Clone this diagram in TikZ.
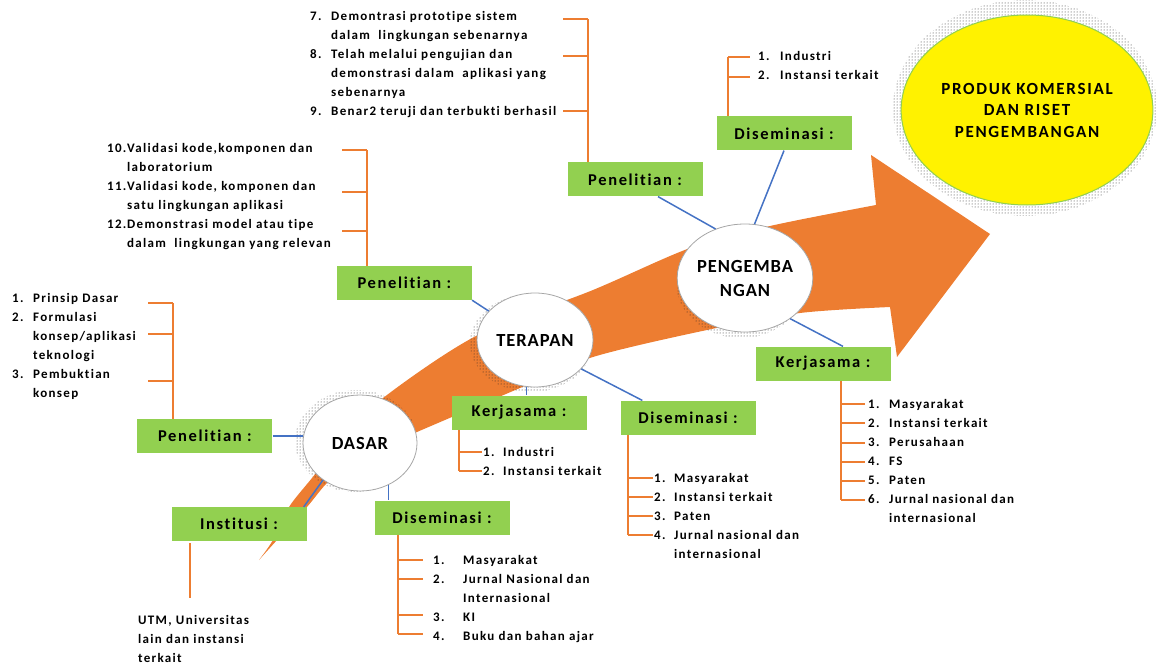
\documentclass[tikz,border=0pt]{standalone}
\usepackage{fontspec}
\setmainfont{Carlito}[LetterSpace=10, Ligatures=NoCommon]
\newfontfamily\stagefont{Carlito}[LetterSpace=5, Ligatures=NoCommon]
\usetikzlibrary{shapes.geometric, patterns, positioning}
\definecolor{arrowOrange}{HTML}{ED7D31}
\definecolor{boxGreen}{HTML}{92D050}
\definecolor{linkBlue}{HTML}{4472C4}
\tikzstyle{greenNode} = [rectangle, minimum width=135pt, minimum height=34pt, inner sep=0pt, fill=boxGreen, text=black, font=\fontsize{16.5}{20}\selectfont\bfseries]
\tikzstyle{stageNode} = [ellipse, draw=black!35, line width=0.8pt, fill=white, inner sep=0pt, align=center, font=\stagefont\fontsize{18.5}{24}\selectfont\bfseries]
\tikzstyle{goalNode} = [ellipse, fill=yellow, draw=boxGreen, line width=1pt, minimum width=230pt, minimum height=190pt, align=center, font=\fontsize{17}{21.5}\selectfont\bfseries]
\tikzstyle{listNode} = [anchor=base west, inner sep=0pt, font=\fontsize{13}{19}\selectfont\bfseries]
\tikzstyle{halo} = [pattern=dots, pattern color=black!85]
\tikzstyle{lineB} = [line width=1.5pt, draw=linkBlue]
\tikzstyle{lineO} = [line width=1.4pt, draw=arrowOrange]

\begin{document}
\begin{tikzpicture}[x=1pt, y=-1pt]
    \useasboundingbox (0,0) rectangle (1166,666);

    % big arrow
    \fill[arrowOrange] plot[smooth, tension=0.5] coordinates {(259,560) (273,540) (289,507) (312,478) (345,437) (383,398) (476,336) (593,290) (690,248) (770,226) (876,205)}
        -- (871,155) -- (990,234) -- (897,357) -- (890,307)
        -- plot[smooth, tension=0.5] coordinates {(890,307) (800,313) (707,330) (593,357) (520,388) (417,432) (365,455) (330,480) (307,507) (277,540) (259,560)} -- cycle;

    % halos
    \fill[halo] (1025,108) ellipse (132pt and 108pt);
    \fill[halo] (356,441) ellipse (61pt and 51pt);
    \fill[halo] (531,343) ellipse (61pt and 49pt);
    \fill[halo] (741,282) ellipse (65pt and 56pt);

    \node (produk) [goalNode] at (1027,110) {PRODUK KOMERSIAL\\DAN RISET\\PENGEMBANGAN};
    \node (dasar) [stageNode, minimum width=114pt, minimum height=96pt] at (360,443) {DASAR};
    \node (terapan) [stageNode, minimum width=116pt, minimum height=94pt] at (535,340) {TERAPAN};
    \node (peng) [stageNode, minimum width=124pt, minimum height=108pt] at (745,278) {PENGEMBA\\NGAN};

    \node (pen1) [greenNode, left=30pt of dasar, yshift=7pt] {Penelitian :};
    \node (inst) [greenNode, below=15.5pt of dasar, xshift=-121pt] {Institusi :};
    \node (dis1) [greenNode, below=9pt of dasar, xshift=82pt] {Diseminasi :};
    \node (pen2) [greenNode, left=4.5pt of terapan, yshift=57pt] {Penelitian :};
    \node (kerj2) [greenNode, below=8pt of terapan, xshift=-16pt] {Kerjasama :};
    \node (dis2) [greenNode, below=13pt of terapan, xshift=153pt] {Diseminasi :};
    \node (pen3) [greenNode, above=27pt of peng, xshift=-110pt] {Penelitian :};
    \node (dis3) [greenNode, above=73pt of peng, xshift=39pt] {Diseminasi :};
    \node (kerj3) [greenNode, below=14pt of peng, xshift=78pt] {Kerjasama :};

    \draw [lineB] (pen1.east) -- (pen1.east -| dasar.west);
    \draw [lineB] ([xshift=-3pt]inst.north east) -- (dasar.225);
    \draw [lineB] (dasar.304) -- (dasar.304 |- dis1.north);
    \draw [lineB] (pen2.south east) -- (terapan.148);
    \draw [lineB] (terapan.260) -- (terapan.260 |- kerj2.north);
    \draw [lineB] (terapan.328) -- ([xshift=22pt]dis2.north west);
    \draw [lineB] ([xshift=23pt]pen3.south) -- (peng.121);
    \draw [lineB] (dis3.south) -- (peng.80);
    \draw [lineB] (peng.318) -- ([xshift=20pt]kerj3.north);

    % lists
    \node (listA) [listNode] at (12,302) {\begin{tabular}[t]{@{}p{21pt}@{}l@{}}
        1. & Prinsip Dasar\\ 2. & Formulasi\\ & konsep/aplikasi\\ & teknologi\\ 3. & Pembuktian\\ & konsep\end{tabular}};
    \node (listB) [listNode] at (107,152) {\begin{tabular}[t]{@{}p{20pt}@{}l@{}}
        10. & Validasi kode,komponen dan\\ & laboratorium\\ 11. & Validasi kode, komponen dan\\ & satu lingkungan aplikasi\\ 12. & Demonstrasi model atau tipe\\ & dalam\ \ lingkungan yang relevan\end{tabular}};
    \node (listC) [listNode] at (310,21) {\begin{tabular}[t]{@{}p{21pt}@{}l@{}}
        7. & Demontrasi prototipe sistem\\ & dalam\ \ lingkungan sebenarnya\\ 8. & Telah melalui pengujian dan\\ & demonstrasi dalam\ \ aplikasi yang\\ & sebenarnya\\ 9. & Benar2 teruji dan terbukti berhasil\end{tabular}};
    \node (listD) [listNode] at (758,61) {\begin{tabular}[t]{@{}p{22pt}@{}l@{}}
        1. & Industri\\ 2. & Instansi terkait\end{tabular}};
    \node (listE) [listNode] at (868,408) {\begin{tabular}[t]{@{}p{21pt}@{}l@{}}
        1. & Masyarakat\\ 2. & Instansi terkait\\ 3. & Perusahaan\\ 4. & FS\\ 5. & Paten\\ 6. & Jurnal nasional dan\\ & internasional\end{tabular}};
    \node (listF) [listNode] at (483,456) {\begin{tabular}[t]{@{}p{20pt}@{}l@{}}
        1. & Industri\\ 2. & Instansi terkait\end{tabular}};
    \node (listG) [listNode] at (654,482) {\begin{tabular}[t]{@{}p{20pt}@{}l@{}}
        1. & Masyarakat\\ 2. & Instansi terkait\\ 3. & Paten\\ 4. & Jurnal nasional dan\\ & internasional\end{tabular}};
    \node (listH) [listNode] at (433,564) {\begin{tabular}[t]{@{}p{30pt}@{}l@{}}
        1. & Masyarakat\\ 2. & Jurnal Nasional dan\\ & Internasional\\ 3. & KI\\ 4. & Buku dan bahan ajar\end{tabular}};
    \node (listI) [listNode] at (138,624) {\begin{tabular}[t]{@{}l@{}}
        UTM, Universitas\\ lain dan instansi\\ terkait\end{tabular}};

    % brackets
    \coordinate (tA) at (173,303);
    \coordinate (tB) at (367,150);
    \coordinate (tC) at (588,19);
    \coordinate (tD) at (728,57);
    \coordinate (tE) at (841,500);
    \coordinate (tF) at (459,471);
    \coordinate (tG) at (628,535);
    \coordinate (tH) at (398,634);
    \coordinate (tI) at (190,598);
    \draw [lineO] (tA |- pen1.north) -- (tA);
    \draw [lineO] (tB |- pen2.north) -- (tB);
    \draw [lineO] (tC |- pen3.north) -- (tC);
    \draw [lineO] (tD |- dis3.north) -- (tD);
    \draw [lineO] (tE |- kerj3.south) -- (tE);
    \draw [lineO] (tF |- kerj2.south) -- (tF);
    \draw [lineO] (tG |- dis2.south) -- (tG);
    \draw [lineO] (tH |- dis1.south) -- (tH);
    \draw [lineO] ([yshift=-2pt]tI |- inst.south) -- (tI);
    \foreach \yy in {303,334,381} \draw [lineO] (173,\yy) -- ++(-25,0);
    \foreach \yy in {150,192,231} \draw [lineO] (367,\yy) -- ++(-25,0);
    \foreach \yy in {19,56,111} \draw [lineO] (588,\yy) -- ++(-25,0);
    \foreach \yy in {57,77} \draw [lineO] (728,\yy) -- ++(22,0);
    \foreach \yy in {404,423,443,462,481,500} \draw [lineO] (841,\yy) -- ++(24,0);
    \foreach \yy in {452,471} \draw [lineO] (459,\yy) -- ++(23,0);
    \foreach \yy in {478,497,516,535} \draw [lineO] (628,\yy) -- ++(25,0);
    \foreach \yy in {560,579,615,634} \draw [lineO] (398,\yy) -- ++(25,0);

\end{tikzpicture}
\end{document}
